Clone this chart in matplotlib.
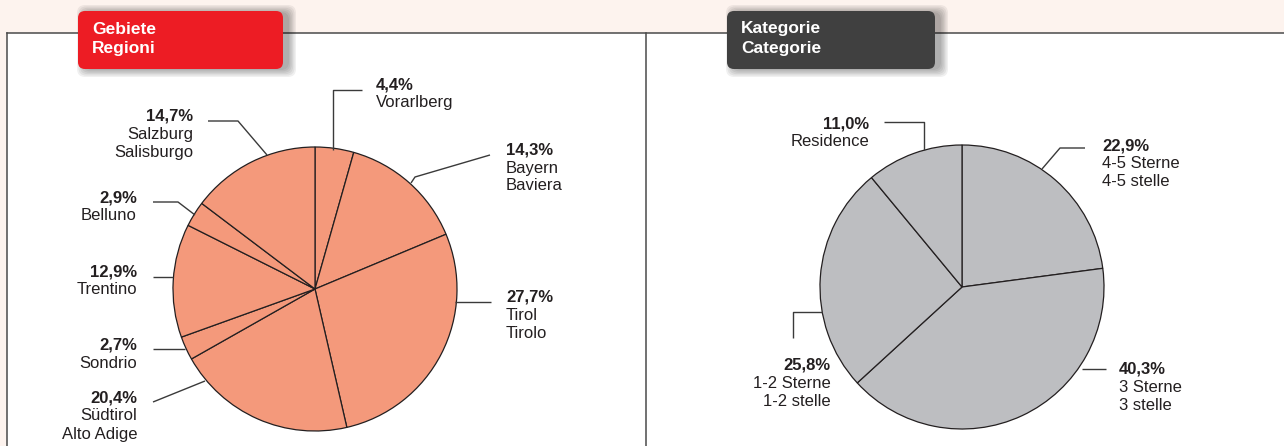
import matplotlib.pyplot as plt
from matplotlib.patches import Rectangle, FancyBboxPatch

W, H = 1284, 446

# data
regions = ["Vorarlberg", "Bayern\nBaviera", "Tirol\nTirolo", "Südtirol\nAlto Adige",
           "Sondrio", "Trentino", "Belluno", "Salzburg\nSalisburgo"]
region_share = [4.4, 14.3, 27.7, 20.4, 2.7, 12.9, 2.9, 14.7]
categories = ["4-5 Sterne\n4-5 stelle", "3 Sterne\n3 stelle", "1-2 Sterne\n1-2 stelle", "Residence"]
category_share = [22.9, 40.3, 25.8, 11.0]

TXT = "#231f20"
FONT = "Liberation Sans"


def Y(py):
    return H - py


def label(ax, x, y, pct, name, ha):
    ax.text(x, Y(y), f"{pct:.1f}%".replace(".", ","), ha=ha, va="center",
            fontsize=12, fontweight="bold", color=TXT, family=FONT)
    for i, line in enumerate(name.split("\n")):
        ax.text(x, Y(y + 18 * (i + 1)), line, ha=ha, va="center",
                fontsize=12, color=TXT, family=FONT)


def leader(ax, pts):
    ax.plot([p[0] for p in pts], [Y(p[1]) for p in pts], color="#3a3a3a", lw=1,
            solid_capstyle="butt")


def header(ax, x0, x1, y0, y1, color, lines):
    # soft shadow, shifted to the right
    for i in range(6):
        g = i * 1.4
        ax.add_patch(FancyBboxPatch((x0 + 6 - g, Y(y1 + 1) - g), x1 - x0 + 2 * g, y1 - y0 + 2 * g,
                                    boxstyle="round,pad=0,rounding_size=8",
                                    fc="black", ec="none", alpha=0.06, zorder=4))
    ax.add_patch(FancyBboxPatch((x0, Y(y1)), x1 - x0, y1 - y0,
                                boxstyle="round,pad=0,rounding_size=7",
                                fc=color, ec="none", zorder=5))
    for i, t in enumerate(lines):
        ax.text(x0 + 14, Y(y0 + 18 + 20 * i), t, ha="left", va="center", color="white",
                fontsize=12.5, fontweight="bold", family=FONT, zorder=6)


def main():
    fig = plt.figure(figsize=(W / 100, H / 100), dpi=100)
    fig.patch.set_facecolor("#fdf3ee")
    ax = fig.add_axes([0, 0, 1, 1])

    # panels
    ax.add_patch(Rectangle((7, 0), W - 7, H - 33, fc="white", ec="none", zorder=0))
    ax.plot([7, W], [Y(33), Y(33)], color="#4a4a4a", lw=1.1, zorder=1)
    ax.plot([7, 7], [0, Y(33)], color="#4a4a4a", lw=1.1, zorder=1)
    ax.plot([646, 646], [0, Y(33)], color="#4a4a4a", lw=1.1, zorder=1)

    wp = dict(edgecolor=TXT, linewidth=0.9)
    ax.pie(region_share, center=(315, Y(289)), radius=142, startangle=90,
           counterclock=False, colors=["#f4997b"] * len(region_share), wedgeprops=wp, frame=True)
    ax.pie(category_share, center=(962, Y(287)), radius=142, startangle=90,
           counterclock=False, colors=["#bdbec1"] * len(category_share), wedgeprops=wp, frame=True)

    # left labels
    lpos = [(376, 85, "left"), (506, 150, "left"), (506, 297, "left"), (137, 398, "right"),
            (137, 345, "right"), (137, 272, "right"), (137, 198, "right"), (193, 116, "right")]
    for (x, y, ha), pct, name in zip(lpos, region_share, regions):
        label(ax, x, y, pct, name, ha)
    leader(ax, [(362, 90), (333, 90), (333, 150)])
    leader(ax, [(490, 155), (415, 177), (411, 183)])
    leader(ax, [(455, 302), (491, 302)])
    leader(ax, [(153, 402), (205, 381)])
    leader(ax, [(153, 349), (185, 349)])
    leader(ax, [(153, 277), (173, 277)])
    leader(ax, [(153, 202), (178, 202), (195, 215)])
    leader(ax, [(208, 121), (238, 121), (267, 155)])

    # right labels
    rpos = [(1102, 146, "left"), (1119, 369, "left"), (831, 365, "right"), (869, 124, "right")]
    for (x, y, ha), pct, name in zip(rpos, category_share, categories):
        label(ax, x, y, pct, name, ha)
    leader(ax, [(1085, 148), (1060, 148), (1042, 169)])
    leader(ax, [(1082, 369), (1106, 369)])
    leader(ax, [(822, 312), (793, 312), (793, 338)])
    leader(ax, [(884, 122), (924, 122), (924, 150)])

    header(ax, 78, 283, 11, 69, "#ed1c24", ["Gebiete", "Regioni"])
    header(ax, 727, 935, 11, 69, "#404040", ["Kategorie", "Categorie"])

    ax.set_xlim(0, W)
    ax.set_ylim(0, H)
    ax.set_aspect("auto")
    ax.axis("off")
    fig.savefig("out.png", dpi=100, facecolor=fig.get_facecolor())


if __name__ == '__main__':
    main()
